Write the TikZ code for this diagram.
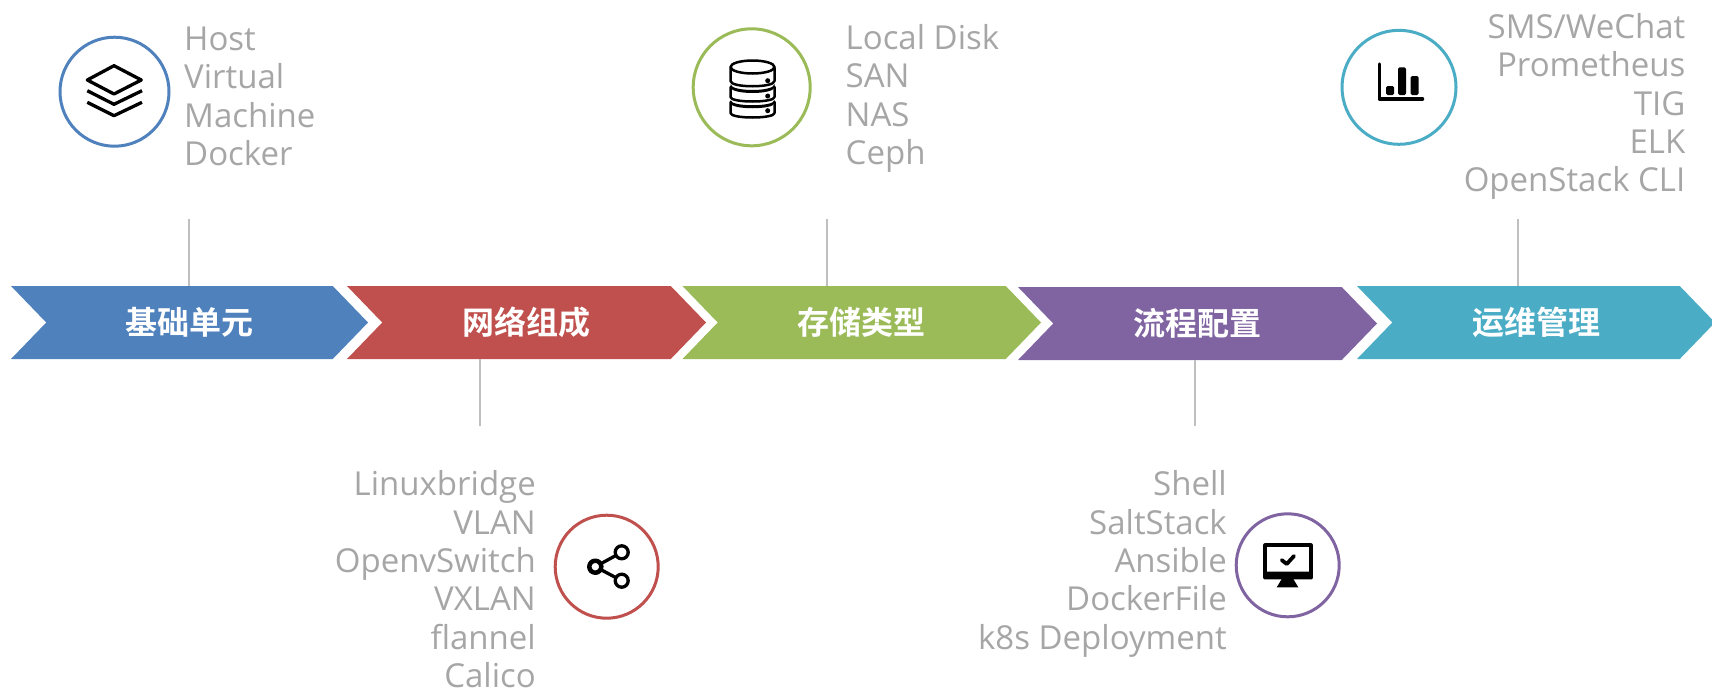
\documentclass[tikz,border=0pt]{standalone}
\usepackage{fontspec}
\usepackage{xcolor}
\usetikzlibrary{shapes.symbols}
\setmainfont{Open Sans}
\newfontfamily\cjkbold[BoldFont={Noto Sans CJK SC Bold}]{Noto Sans CJK SC}
\definecolor{baseblue}{HTML}{4F81BD}
\definecolor{netred}{HTML}{C0504D}
\definecolor{storegreen}{HTML}{9BBB59}
\definecolor{flowpurple}{HTML}{8064A2}
\definecolor{opsteal}{HTML}{4BACC6}
\definecolor{listgray}{HTML}{A6A6A6}
\definecolor{stemgray}{HTML}{BFBFBF}

\begin{document}
\begin{tikzpicture}[
            x=1pt, y=-1pt,
            chevron/.style={signal, signal to=east, signal from=west, signal pointer angle=92,
                inner sep=0pt, outer sep=0pt, minimum height=73pt, minimum width=#1,
                text=white, font=\cjkbold\bfseries\fontsize{32}{36}\selectfont},
            itemlist/.style={text=listgray, inner sep=0pt, font=\fontsize{33}{38.4}\selectfont},
            leftlist/.style={itemlist, align=left, anchor=north west},
            rightlist/.style={itemlist, align=right, anchor=north east},
            ring/.style={circle, draw=#1, line width=3pt, fill=white, inner sep=0pt},
            stem/.style={draw=stemgray, line width=2pt},
            icon/.style={draw=black, line width=3.3pt, line join=round, line cap=round}
        ]
        \useasboundingbox (0,0) rectangle (1712,691);

        % Chevrons
        \node[chevron=357pt, fill=baseblue] (base) at (189.5,322.5) {基础单元};
        \node[chevron=359pt, fill=netred] (net) at (526.5,322.5) {网络组成};
        \node[chevron=358.5pt, fill=storegreen] (store) at (861.75,322.5) {存储类型};
        \node[chevron=359pt, fill=flowpurple] (flow) at (1197.5,323.5) {流程配置};
        \node[chevron=358pt, fill=opsteal] (ops) at (1536,322.5) {运维管理};

        % Stems
        \coordinate (baseStem) at (189,219);
        \coordinate (netStem) at (479.5,426);
        \coordinate (storeStem) at (827,219);
        \coordinate (flowStem) at (1194.5,426);
        \coordinate (opsStem) at (1517.5,219);
        \draw[stem] (baseStem) -- (baseStem |- base.north);
        \draw[stem] (netStem) -- (netStem |- net.south);
        \draw[stem] (storeStem) -- (storeStem |- store.north);
        \draw[stem] (flowStem) -- (flowStem |- flow.south);
        \draw[stem] (opsStem) -- (opsStem |- ops.north);

        % Item lists
        \node[leftlist] (baseList) at (184,26.5) {Host\\Virtual\\Machine\\Docker};
        \node[rightlist] (netList) at (536,470.5) {Linuxbridge\\VLAN\\OpenvSwitch\\VXLAN\\flannel\\Calico};
        \node[leftlist] (storeList) at (845.5,24) {Local Disk\\SAN\\NAS\\Ceph};
        \node[rightlist] (flowList) at (1227,470.5) {Shell\\SaltStack\\Ansible\\DockerFile\\k8s Deployment};
        \node[rightlist] (opsList) at (1685.5,13) {SMS/WeChat\\Prometheus\\TIG\\ELK\\OpenStack CLI};

        % Rings
        \node[ring=baseblue, minimum size=109pt] (baseRing) at (114.5,91.7) {};
        \node[ring=netred, minimum size=103pt] (netRing) at (606.7,566.7) {};
        \node[ring=storegreen, minimum size=117pt] (storeRing) at (751.7,87.3) {};
        \node[ring=flowpurple, minimum size=103pt] (flowRing) at (1287.7,565.3) {};
        \node[ring=opsteal, minimum size=114pt] (opsRing) at (1399,87.3) {};

        % Layers icon
        \draw[icon] (114,65.7) -- (141.3,80) -- (114,94) -- (87.3,80) -- cycle;
        \draw[icon, line cap=butt] (87.3,90.7) -- (114,104.3) -- (142,90.7);
        \draw[icon, line cap=butt] (87.3,102.3) -- (114,115.7) -- (142,102.3);

        % Share icon
        \draw[icon] (621.7,552.3) -- (595.3,566.7) -- (621.7,580.7);
        \draw[icon, fill=white, line width=4.5pt] (595.3,566.7) circle (6);
        \draw[icon, fill=white] (621.7,552.3) circle (6.5);
        \draw[icon, fill=white] (621.7,580.7) circle (6.5);

        % Disk icon
        \draw[icon, line width=2.5pt] (730.5,102) -- (730.5,113) .. controls (730.5,119) and (774.5,119) .. (774.5,113) -- (774.5,102);
        \draw[icon, line width=2.5pt] (730.5,87) -- (730.5,97) .. controls (730.5,103) and (774.5,103) .. (774.5,97) -- (774.5,87);
        \draw[icon, line width=2.5pt] (730.5,68) -- (730.5,81) .. controls (730.5,88) and (774.5,88) .. (774.5,81) -- (774.5,68);
        \draw[icon, line width=2.5pt] (752.5,67) ellipse (22 and 6.5);
        \fill (730.5,84) .. controls (730.5,92) and (774.5,92) .. (774.5,84) -- (774.5,87) .. controls (774.5,95) and (730.5,95) .. (730.5,87) -- cycle;
        \fill (730.5,100) .. controls (730.5,107) and (774.5,107) .. (774.5,100) -- (774.5,103) .. controls (774.5,110) and (730.5,110) .. (730.5,103) -- cycle;
        \fill (767.7,80.7) circle (2.5);
        \fill (767.7,96) circle (2.5);
        \fill (767.7,110.7) circle (2.5);

        % Monitor icon
        \draw[icon, line width=4pt] (1265.3,545.3) rectangle (1310.7,577);
        \fill[rounded corners=1pt] (1263.3,571.5) rectangle (1312.7,579.3);
        \fill (1281.7,579) -- (1293.3,579) -- (1298.3,587.3) -- (1276.7,587.3) -- cycle;
        \draw[icon, line width=3.8pt] (1281.7,560) -- (1286.7,564) -- (1294,556);

        % Bars icon
        \draw[icon, line width=3.5pt] (1379.3,64) -- (1379.3,99) -- (1422.5,99);
        \fill[rounded corners=1.5pt] (1386,86) rectangle (1394,95);
        \fill[rounded corners=1.5pt] (1398,67.3) rectangle (1406,95);
        \fill[rounded corners=1.5pt] (1410.7,76) rectangle (1418.7,95);
    \end{tikzpicture}
\end{document}
